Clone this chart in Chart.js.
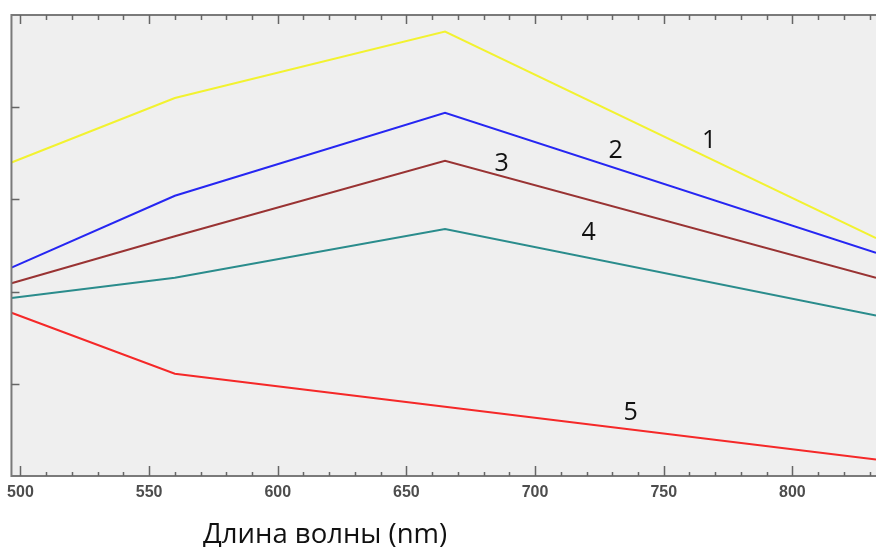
<!DOCTYPE html>
<html><head><meta charset="utf-8">
<script src="https://cdn.jsdelivr.net/npm/chart.js@4.4.1/dist/chart.umd.min.js"></script>
<style>
html,body{margin:0;padding:0;background:#fff;width:876px;height:547px;overflow:hidden}
canvas{display:block}
</style></head>
<body>
<canvas id="c" width="876" height="547"></canvas>
<script>
// ---- data ----
const wavelengths = [496.5, 560, 665, 832.5];
const series1 = [3.40, 4.10, 4.82, 2.58];   // yellow
const series2 = [2.26, 3.04, 3.94, 2.42];   // blue
const series3 = [2.09, 2.60, 3.42, 2.15];   // brown
const series4 = [1.93, 2.15, 2.68, 1.74];   // teal
const series5 = [1.77, 1.11, 0.75, 0.18];   // red
const seriesNames = ['1', '2', '3', '4', '5'];
const xTickValues = [500, 550, 600, 650, 700, 750, 800];
const xTitle = 'Длина волны (nm)';
// label anchor points in data units (wavelength, value)
const labelX = [767.7, 731.3, 687.0, 720.8, 737.1];
const labelY = [3.64, 3.53, 3.39, 2.64, 0.68];

const colors = ['#f2f230', '#2626f2', '#993333', '#2a8c8c', '#f52828'];
const allSeries = [series1, series2, series3, series4, series5];

const datasets = allSeries.map((s, i) => ({
  label: seriesNames[i],
  data: wavelengths.map((w, j) => ({x: w, y: s[j]})),
  borderColor: colors[i],
  borderWidth: 2,
  pointRadius: 0,
  tension: 0,
  fill: false
}));

const framePlugin = {
  id: 'frame',
  beforeDraw(chart) {
    const {ctx, chartArea: a} = chart;
    ctx.save();
    ctx.fillStyle = '#efefef';
    ctx.fillRect(a.left, a.top, a.right - a.left, a.bottom - a.top);
    ctx.restore();
  },
  afterDatasetsDraw(chart) {
    const {ctx, chartArea: a, scales} = chart;
    const xs = scales.x, ys = scales.y;
    ctx.save();
    ctx.strokeStyle = '#7a7a7a';
    ctx.lineWidth = 2;
    ctx.beginPath();
    ctx.moveTo(a.right, a.top); ctx.lineTo(a.left, a.top);
    ctx.lineTo(a.left, a.bottom); ctx.lineTo(a.right, a.bottom);
    ctx.stroke();
    ctx.lineWidth = 1.5;
    ctx.strokeStyle = '#666';
    ctx.beginPath();
    for (let v = 500; v <= 830; v += 10) {
      const px = Math.round(xs.getPixelForValue(v)) + 0.5;
      const major = v % 50 === 0;
      ctx.moveTo(px, a.bottom); ctx.lineTo(px, a.bottom - (major ? 10 : 4));
      ctx.moveTo(px, a.top); ctx.lineTo(px, a.top + (major ? 9 : 5));
    }
    for (let v = 1; v <= 4; v++) {
      const py = Math.round(ys.getPixelForValue(v)) + 0.5;
      ctx.moveTo(a.left, py); ctx.lineTo(a.left + 8, py);
    }
    ctx.stroke();
    ctx.restore();
  },
  afterDraw(chart) {
    const {ctx, scales} = chart;
    ctx.save();
    ctx.fillStyle = '#111';
    ctx.font = '25px "Open Sans"';
    ctx.textAlign = 'center';
    ctx.textBaseline = 'middle';
    seriesNames.forEach((n, i) => {
      ctx.fillText(n, scales.x.getPixelForValue(labelX[i]), scales.y.getPixelForValue(labelY[i]));
    });
    ctx.textAlign = 'left';
    ctx.textBaseline = 'alphabetic';
    ctx.font = '27.5px "Open Sans"';
    ctx.fillText(xTitle, 203, 543);
    ctx.restore();
  }
};

new Chart(document.getElementById('c'), {
  type: 'line',
  data: {datasets},
  options: {
    responsive: false,
    animation: false,
    devicePixelRatio: 1,
    layout: {padding: {top: 15, right: 0, left: 0, bottom: 0}},
    plugins: {legend: {display: false}, tooltip: {enabled: false}},
    scales: {
      x: {
        type: 'linear',
        min: 496.5,
        max: 832.5,
        afterBuildTicks(scale) { scale.ticks = xTickValues.map(v => ({value: v})); },
        afterFit(scale) { scale.height = 71; },
        grid: {display: false, drawTicks: false},
        border: {display: false},
        ticks: {
          autoSkip: false, maxRotation: 0, padding: 7,
          color: '#4d4d4d',
          font: {family: '"Liberation Sans"', size: 16, weight: 'bold'}
        }
      },
      y: {
        min: 0, max: 5,
        afterFit(scale) { scale.width = 11; },
        grid: {display: false, drawTicks: false},
        border: {display: false},
        ticks: {display: false, stepSize: 1}
      }
    }
  },
  plugins: [framePlugin]
});
</script>
</body></html>
